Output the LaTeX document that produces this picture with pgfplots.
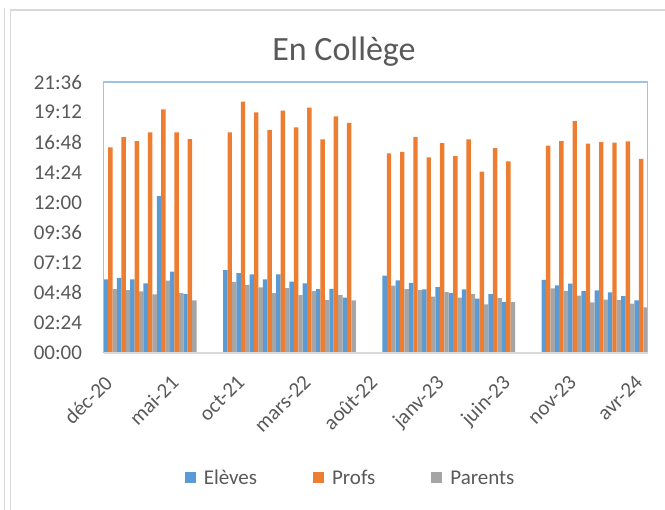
\documentclass[border=0pt]{standalone}
\usepackage{fontspec}
\setmainfont{Carlito}
\usepackage{pgfplots}
\pgfplotsset{compat=1.18}
\definecolor{cblue}{HTML}{5B9BD5}
\definecolor{corange}{HTML}{ED7D31}
\definecolor{cgray}{HTML}{A5A5A5}
\definecolor{ctext}{HTML}{595959}
\definecolor{cframe}{HTML}{9DC3E6}
\definecolor{cline}{HTML}{D9D9D9}
\begin{document}
\begin{tikzpicture}
\begin{axis}[
  scale only axis, width=544pt, height=271pt,
  xmin=-0.5, xmax=40.5, ymin=0, ymax=21.6,
  enlargelimits=false, clip=false,
  axis line style={draw=none},
  major tick length=0pt, tick style={draw=none},
  xtick={0,5,10,15,20,25,30,35,40},
  xticklabels={déc-20,mai-21,oct-21,mars-22,août-22,janv-23,juin-23,nov-23,avr-24},
  ytick={0,2.4,4.8,7.2,9.6,12,14.4,16.8,19.2,21.6},
  yticklabels={00:00,02:24,04:48,07:12,09:36,12:00,14:24,16:48,19:12,21:36},
  ticklabel style={font=\fontsize{21}{25}\selectfont, text=ctext},
  yticklabel style={anchor=east, inner sep=0pt, xshift=-21.5pt},
  xticklabel style={inner sep=0pt, rotate=45, anchor=north east, xshift=-19.8pt, yshift=-9.8pt},
  ybar=0pt, bar width=4.43pt,
  legend columns=3,
  legend style={at={(rel axis cs:0.452,-0.4576)}, anchor=center, draw=none, fill=none,
    font=\fontsize{21}{25}\selectfont, text=ctext,
    nodes={inner sep=0pt, text height=15pt, text depth=0pt},
    /tikz/every odd column/.append style={column sep=8pt},
    /tikz/every even column/.append style={column sep=56pt}},
  legend image code/.code={\fill[#1] (0pt,-5.5pt) rectangle (11pt,5.5pt);},
]
\addplot[ybar, bar shift=-4.43pt, fill=cblue, draw=none] coordinates {
(0,5.87) (1,5.98) (2,5.87) (3,5.55) (4,12.51) (5,6.48) (6,4.70)
(9,6.61) (10,6.37) (11,6.27) (12,5.87) (13,6.27) (14,5.68) (15,5.55) (16,5.10) (17,5.12) (18,4.41)
(21,6.16) (22,5.79) (23,5.58) (24,5.07) (25,5.26) (26,4.78) (27,5.07) (28,4.33) (29,4.70) (30,4.06)
(33,5.82) (34,5.39) (35,5.52) (36,4.94) (37,5.00) (38,4.84) (39,4.54) (40,4.20)};
\addlegendentry{Elèves}
\addplot[ybar, bar shift=0pt, fill=corange, draw=none] coordinates {
(0,16.39) (1,17.21) (2,16.89) (3,17.58) (4,19.42) (5,17.58) (6,17.05)
(9,17.58) (10,20.03) (11,19.18) (12,17.77) (13,19.31) (14,17.98) (15,19.55) (16,17.03) (17,18.86) (18,18.35)
(21,15.91) (22,16.04) (23,17.21) (24,15.59) (25,16.73) (26,15.70) (27,17.03) (28,14.45) (29,16.33) (30,15.27)
(33,16.52) (34,16.89) (35,18.49) (36,16.68) (37,16.81) (38,16.76) (39,16.87) (40,15.48)};
\addlegendentry{Profs}
\addplot[ybar, bar shift=4.43pt, fill=cgray, draw=none] coordinates {
(0,5.10) (1,5.02) (2,4.92) (3,4.67) (4,5.76) (5,4.78) (6,4.20)
(9,5.66) (10,5.42) (11,5.23) (12,4.78) (13,5.18) (14,4.62) (15,4.94) (16,4.22) (17,4.62) (18,4.20)
(21,5.36) (22,5.10) (23,5.02) (24,4.49) (25,4.86) (26,4.41) (27,4.70) (28,3.88) (29,4.38) (30,4.06)
(33,5.15) (34,4.96) (35,4.57) (36,4.04) (37,4.25) (38,4.22) (39,3.93) (40,3.64)};
\addlegendentry{Parents}
\draw[cframe, line width=1.3pt] (rel axis cs:0,0) -- (rel axis cs:0,1) -- (rel axis cs:1,1) -- (rel axis cs:1,0);
\draw[cline, line width=2pt] (rel axis cs:0,0) -- (rel axis cs:1,0);
\end{axis}
\begin{scope}[x=1pt,y=1pt,shift={(-103.7pt,-157pt)}]
\useasboundingbox (0,0) rectangle (665,510);
\draw[cline, line width=1.2pt] (4.5,0) -- (4.5,502);
\draw[cline, line width=1.2pt] (10.7,0) -- (10.7,500) -- (670,500);
\node[font=\fontsize{34}{40}\selectfont, text=ctext, anchor=base] at (344,449) {En Collège};
\end{scope}
\end{tikzpicture}
\end{document}
